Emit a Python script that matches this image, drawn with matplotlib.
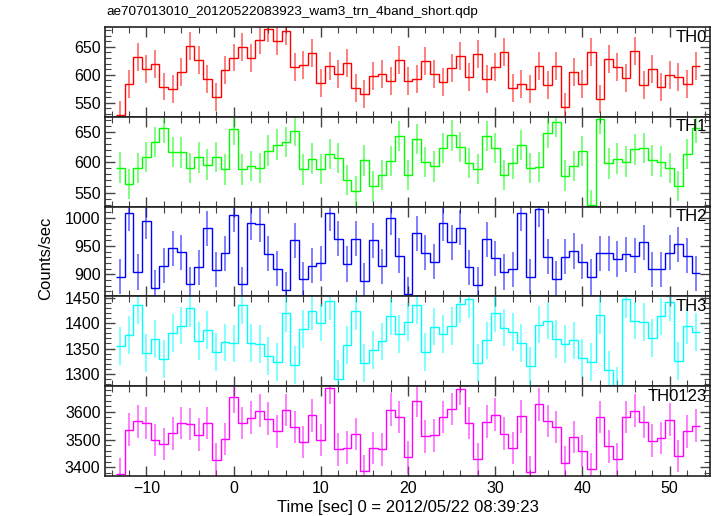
import numpy as np
import matplotlib
matplotlib.use("Agg")
from matplotlib import pyplot as plt
from matplotlib import ticker

plt.rcParams['font.family'] = ['Liberation Sans', 'DejaVu Sans']

# 1 s bins, centred on integer seconds
time = np.arange(-13, 54)

th0 = [528, 583, 632, 611, 619, 579, 575, 605, 651, 626, 592, 561, 608,
       631, 650, 630, 662, 683, 661, 679, 614, 618, 639, 586, 616, 602,
       621, 576, 566, 598, 602, 589, 627, 589, 592, 625, 601, 587, 612,
       634, 596, 637, 592, 614, 641, 576, 583, 574, 616, 581, 616, 543,
       605, 583, 641, 556, 628, 614, 594, 643, 581, 610, 578, 599, 596,
       584, 616]
th1 = [591, 564, 590, 609, 633, 656, 617, 616, 590, 608, 596, 609, 588,
       654, 588, 594, 590, 619, 629, 633, 651, 588, 606, 589, 614, 607,
       571, 552, 603, 560, 579, 602, 643, 579, 638, 600, 593, 623, 644,
       625, 599, 589, 643, 623, 579, 598, 628, 590, 592, 648, 666, 578,
       594, 618, 529, 671, 598, 606, 601, 621, 623, 603, 601, 590, 561,
       614, 656]
th2 = [896, 1008, 904, 994, 876, 915, 946, 939, 882, 912, 981, 908, 937,
       1005, 882, 991, 988, 936, 910, 873, 960, 891, 915, 919, 1008, 963,
       918, 963, 888, 960, 914, 1000, 933, 865, 972, 938, 922, 990, 956,
       982, 912, 881, 962, 928, 904, 909, 1008, 896, 1015, 931, 892, 931,
       941, 922, 895, 937, 937, 927, 935, 933, 956, 909, 909, 938, 953,
       933, 902]
th3 = [1355, 1376, 1436, 1341, 1369, 1330, 1381, 1395, 1430, 1365, 1387,
       1343, 1362, 1360, 1436, 1361, 1359, 1335, 1324, 1420, 1318, 1388,
       1423, 1401, 1443, 1290, 1357, 1423, 1322, 1347, 1364, 1413, 1378,
       1402, 1436, 1343, 1393, 1379, 1394, 1437, 1447, 1321, 1366, 1420,
       1391, 1382, 1361, 1316, 1397, 1405, 1369, 1359, 1366, 1331, 1324,
       1416, 1308, 1276, 1447, 1405, 1402, 1371, 1413, 1442, 1326, 1395,
       1382]
th0123 = [3375, 3536, 3566, 3560, 3498, 3484, 3522, 3560, 3556, 3518, 3560,
          3427, 3502, 3655, 3560, 3579, 3604, 3576, 3530, 3607, 3545, 3491,
          3587, 3498, 3687, 3465, 3471, 3520, 3385, 3469, 3465, 3608, 3582,
          3436, 3641, 3512, 3515, 3582, 3611, 3684, 3560, 3430, 3565, 3590,
          3521, 3469, 3584, 3383, 3627, 3567, 3545, 3416, 3509, 3459, 3394,
          3582, 3475, 3430, 3582, 3604, 3564, 3496, 3505, 3572, 3441, 3530,
          3550]

names = ["TH0", "TH1", "TH2", "TH3", "TH0123"]
series = [th0, th1, th2, th3, th0123]
errors = [25, 25, 31, 37, 59]          # half length of the error bars
colors = ["#ff0000", "#00ff00", "#0000ff", "#00ffff", "#ff00ff"]
ylims = [(525, 686), (527, 675), (861, 1019.5), (1276, 1452.5), (3368, 3693)]
ymajor = [50, 50, 50, 50, 100]
yminor = [10, 10, 10, 10, 20]

fig, axes = plt.subplots(5, 1, sharex=True, figsize=(7.17, 5.16), dpi=100)
fig.subplots_adjust(left=0.147, right=0.990, top=0.948, bottom=0.0775, hspace=0)

edges = np.append(time - 0.5, time[-1] + 0.5)
for ax, name, vals, err, col, ylim, ma, mi in zip(
        axes, names, series, errors, colors, ylims, ymajor, yminor):
    vals = np.array(vals, dtype=float)
    ax.errorbar(time, vals, yerr=err, fmt="none", ecolor=col, elinewidth=1.4,
                alpha=0.5, capsize=0)
    ax.stairs(vals, edges, baseline=None, color=col, linewidth=1.0)
    ax.set_ylim(*ylim)
    ax.yaxis.set_major_locator(ticker.MultipleLocator(ma))
    ax.yaxis.set_minor_locator(ticker.MultipleLocator(mi))
    ax.xaxis.set_major_locator(ticker.MultipleLocator(10))
    ax.xaxis.set_minor_locator(ticker.MultipleLocator(2))
    ax.tick_params(which="both", direction="in", top=True, right=True,
                   labelsize=11.5, color="#444444")
    ax.tick_params(which="major", length=7, width=1)
    ax.tick_params(which="minor", length=4, width=0.8)
    for sp in ax.spines.values():
        sp.set_linewidth(1.2)
        sp.set_color("#222222")
    ax.text(0.995, 0.97, name, transform=ax.transAxes, ha="right", va="top",
            fontsize=12)

axes[0].set_xlim(-14.7, 54.6)
axes[-1].set_xlabel("Time [sec] 0 = 2012/05/22 08:39:23", fontsize=12, labelpad=3)
fig.text(0.063, 0.5, "Counts/sec", rotation=90, ha="center", va="center",
         fontsize=12)
fig.text(0.149, 0.977, "ae707013010_20120522083923_wam3_trn_4band_short.qdp",
         ha="left", va="center", fontsize=9.7)

fig.savefig("out.png", dpi=100)
